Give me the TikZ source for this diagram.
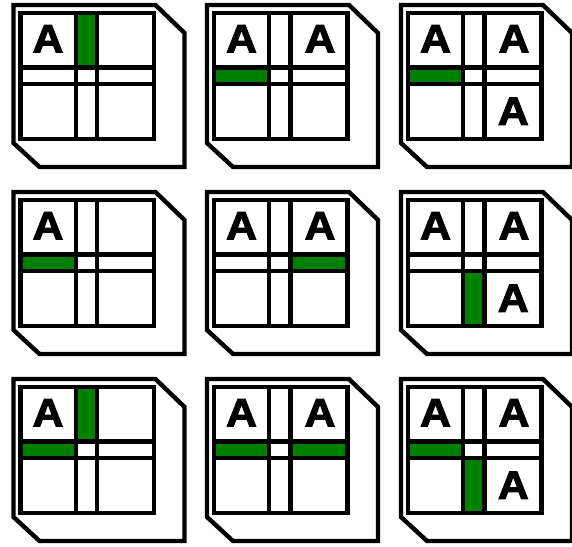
\documentclass[tikz,border=0pt]{standalone}
\usepackage{fontspec}
\setmainfont{Liberation Sans}
\newfontfamily\heavyfont[FakeBold=2.6]{Liberation Sans Bold}
\definecolor{bargreen}{RGB}{0,128,0}
\tikzset{
  edge/.style={line width=4.4pt, miter limit=10},
  letter/.style={inner sep=0pt, font=\fontsize{39.5}{39.5}\heavyfont, xscale=1.08},
}
\newcommand{\TileFrame}{%
  \draw[edge, fill=white] (0,0) -- (142,0) -- (171,28) -- (171,162) -- (26,162) -- (0,138) -- cycle;}
\newcommand{\GreenTV}{\fill[bargreen] (62.2,8.2) rectangle (83.6,62.4);}
\newcommand{\GreenBV}{\fill[bargreen] (62.2,79.1) rectangle (83.6,133.8);}
\newcommand{\GreenLH}{\fill[bargreen] (6.8,62.4) rectangle (62.2,79.1);}
\newcommand{\GreenRH}{\fill[bargreen] (83.6,62.4) rectangle (140.4,79.1);}
\newcommand{\TileGrid}{%
  \draw[edge] (6.8,8.2) rectangle (140.4,133.8);
  \draw[edge] (62.2,8.2) -- (62.2,133.8);
  \draw[edge] (83.6,8.2) -- (83.6,133.8);
  \draw[edge] (6.8,62.4) -- (140.4,62.4);
  \draw[edge] (6.8,79.1) -- (140.4,79.1);}
\newcommand{\LetterTL}[1]{\node[letter] (#1tl) at (34.5,33.8) {A};}
\newcommand{\LetterTR}[1]{\node[letter] (#1tr) at (113,33.8) {A};}
\newcommand{\LetterBR}[1]{\node[letter] (#1br) at (112.3,106.2) {A};}
\begin{document}
\begin{tikzpicture}[x=1pt,y=-1pt]
\useasboundingbox (0,0) rectangle (572,546);
\clip (0,0) rectangle (572,546);
\fill[white] (0,0) rectangle (572,546);
% Row 1
\begin{scope}[shift={(13.5,5)}]
  \TileFrame \GreenTV \TileGrid \LetterTL{a}
\end{scope}
\begin{scope}[shift={(207,5)}]
  \TileFrame \GreenLH \TileGrid \LetterTL{b} \LetterTR{b}
\end{scope}
\begin{scope}[shift={(401,5)}]
  \TileFrame \GreenLH \TileGrid \LetterTL{c} \LetterTR{c} \LetterBR{c}
\end{scope}
% Row 2
\begin{scope}[shift={(13.5,192)}]
  \TileFrame \GreenLH \TileGrid \LetterTL{d}
\end{scope}
\begin{scope}[shift={(207,192)}]
  \TileFrame \GreenRH \TileGrid \LetterTL{e} \LetterTR{e}
\end{scope}
\begin{scope}[shift={(401,192)}]
  \TileFrame \GreenBV \TileGrid \LetterTL{f} \LetterTR{f} \LetterBR{f}
\end{scope}
% Row 3
\begin{scope}[shift={(13.5,379)}]
  \TileFrame \GreenTV \GreenLH \TileGrid \LetterTL{g}
\end{scope}
\begin{scope}[shift={(207,379)}]
  \TileFrame \GreenLH \GreenRH \TileGrid \LetterTL{h} \LetterTR{h}
\end{scope}
\begin{scope}[shift={(401,379)}]
  \TileFrame \GreenLH \GreenBV \TileGrid \LetterTL{i} \LetterTR{i} \LetterBR{i}
\end{scope}
\end{tikzpicture}
\end{document}
